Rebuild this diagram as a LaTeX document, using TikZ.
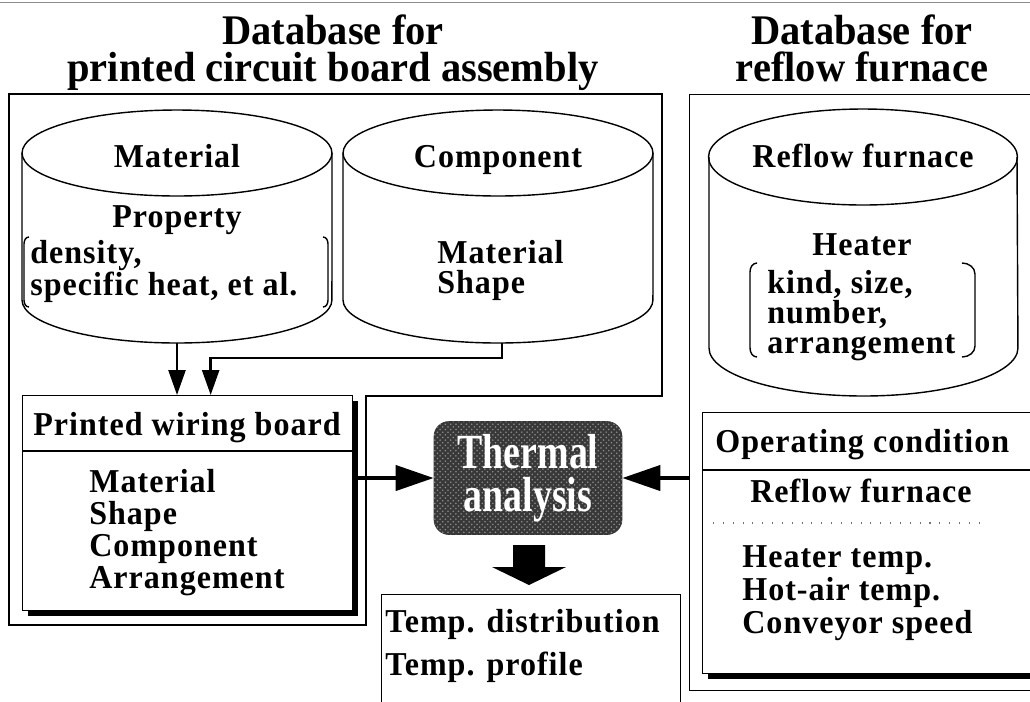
\documentclass[tikz,border=0pt]{standalone}
\usepackage{fontspec}
\setmainfont{Liberation Serif}[LetterSpace=3, FakeStretch=0.96]
\newfontfamily\ttlfont{Liberation Serif}[FakeStretch=0.96]
\newfontfamily\thinfont{Liberation Serif}[FakeStretch=0.77]
\usetikzlibrary{arrows.meta}
\usetikzlibrary{shadows}
\usetikzlibrary{patterns}

\begin{document}
\begin{tikzpicture}[x=0.02cm, y=-0.02cm,
  txt/.style={font=\bfseries\fontsize{19}{17}\selectfont, inner sep=0pt},
  ttl/.style={font=\ttlfont\bfseries\fontsize{24}{21.5}\selectfont, inner sep=0pt, align=center},
  dbframe/.style={draw, line width=0.7pt},
  cyl/.style={draw, line width=0.8pt},
  box/.style={draw, fill=white, line width=0.8pt, inner sep=0pt, anchor=north west},
  shadowed/.style={drop shadow={shadow xshift=0.1cm, shadow yshift=-0.1cm, fill=black, opacity=1}},
  feed/.style={line width=1.4pt, -{Triangle[length=0.5cm, width=0.34cm]}},
  bigarrow/.style={line width=2.3pt, -{Triangle[length=0.76cm, width=0.5cm]}}]
\useasboundingbox (0,0) rectangle (1030,701);

% top rule
\draw[black!45, line width=0.5pt] (0,2) -- (1030,2);

% titles
\node[ttl, anchor=north] (ttlpcb) at (333,14) {Database for\\printed circuit board assembly};
\node[ttl, anchor=north] (ttlrf) at (862,14) {Database for\\reflow furnace};

% frame of the board database (L-shaped)
\draw[dbframe] (9,94) -- (662,94) -- (662,396) -- (366,396) -- (366,625) -- (9,625) -- cycle;
% frame of the furnace database
\node[box, dbframe, minimum width=6.92cm, minimum height=11.92cm] (rfbox) at (689,94) {};

% Material cylinder
\draw[cyl] (177,153) ellipse [x radius=3.1cm, y radius=0.86cm];
\draw[cyl] (22,153) -- (22,300) arc[start angle=180, end angle=360, x radius=3.1cm, y radius=0.86cm] -- (332,153);
\coordinate (matbot) at (177,343);
\node[txt, anchor=base] (matname) at (177,167) {Material};
\node[txt, anchor=base] (matprop) at (177,227) {Property};
\node[txt, anchor=north west, align=left] (matlist) at (30,240) {density,\\specific heat, et al.};
\draw[line width=0.8pt] (29,237) to[out=180,in=90] (24,244) -- (24,300) to[out=-90,in=180] (29,307);
\draw[line width=0.8pt] (323,237) to[out=0,in=90] (328,244) -- (328,300) to[out=-90,in=0] (323,307);

% Component cylinder
\draw[cyl] (498,153) ellipse [x radius=3.1cm, y radius=0.86cm];
\draw[cyl] (343,153) -- (343,300) arc[start angle=180, end angle=360, x radius=3.1cm, y radius=0.86cm] -- (653,153);
\coordinate (combot) at (502,343);
\node[txt, anchor=base] (comname) at (498,167) {Component};
\node[txt, anchor=north west, align=left] (comlist) at (437,240) {Material\\Shape};

% Reflow furnace cylinder
\draw[cyl] (863,157) ellipse [x radius=3.09cm, y radius=0.96cm];
\draw[cyl] (709,157) -- (709,348) arc[start angle=180, end angle=360, x radius=3.09cm, y radius=0.96cm] -- (1017,157);
\node[txt, anchor=base] (rfname) at (863,167) {Reflow furnace};
\node[txt, anchor=base] (rfheat) at (862,255) {Heater};
\node[txt, anchor=north west, align=left] (rflist) at (767,270) {kind, size,\\number,\\arrangement};
\draw[line width=0.8pt] (757,263) to[out=180,in=90] (750,272) -- (750,348) to[out=-90,in=180] (757,357);
\draw[line width=0.8pt] (962,263) to[out=0,in=90] (975,274) -- (975,346) to[out=-90,in=0] (962,357);

% printed wiring board
\node[box, shadowed, minimum width=6.6cm, minimum height=4.3cm] (pwb) at (22,395) {};
\draw[line width=0.8pt] ([yshift=-1.12cm]pwb.north west) -- ([yshift=-1.12cm]pwb.north east);
\node[txt, anchor=base] (pwbttl) at (187,435) {Printed wiring board};
\node[txt, anchor=north west, align=left, font=\bfseries\fontsize{19}{18.2}\selectfont] (pwblist) at (89,469) {Material\\Shape\\Component\\Arrangement};

% operating condition
\node[box, shadowed, minimum width=6.76cm, minimum height=5.22cm] (opc) at (702,412) {};
\draw[line width=0.8pt] ([yshift=-1.16cm]opc.north west) -- ([yshift=-1.16cm]opc.north east);
\node[txt, anchor=base west] (opcttl) at (715,452) {Operating condition};
\node[txt, anchor=base west] (opcrf) at (750,502) {Reflow furnace};
\draw[black!55, line width=0.6pt, dash pattern=on 0.6pt off 5pt] (713,523) -- (980,523);
\node[txt, anchor=north west, align=left, font=\bfseries\fontsize{19}{18.8}\selectfont] (opclist) at (742,545) {Heater temp.\\Hot-air temp.\\Conveyor speed};

% thermal analysis
\node[draw=black!80, fill=black!78, rounded corners=0.3cm, minimum width=3.76cm, minimum height=2.26cm,
  postaction={pattern=crosshatch dots, pattern color=black!45},
  text=white, align=center, inner sep=0pt, font=\thinfont\bfseries\fontsize{28}{24.5}\selectfont] (therm) at (528,478) {Thermal\\analysis};

% results
\node[box, minimum width=5.98cm, minimum height=2.4cm] (out) at (381,594) {};
\node[txt, anchor=north west, align=left, font=\bfseries\fontsize{19}{24.5}\selectfont] (outlist) at (385,609) {Temp. distribution\\Temp. profile};
\fill (513,545) -- (545,545) -- (545,567) -- (566,567) -- (529,585) -- (492,567) -- (513,567) -- cycle;

% data flow
\draw[feed] (matbot) -- (matbot |- pwb.north);
\draw[feed] (combot) -- ++(0,15) -| ([xshift=0.46cm]pwb.north);
\draw[bigarrow] (pwb.east |- therm.west) -- (therm.west);
\draw[bigarrow] (rfbox.west |- therm.east) -- (therm.east);
\end{tikzpicture}
\end{document}
